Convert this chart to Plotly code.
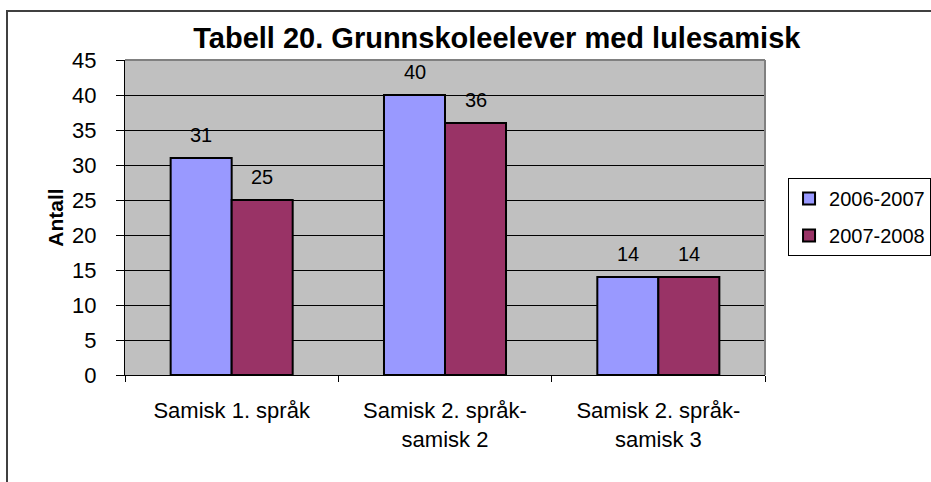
import plotly.graph_objects as go

categories = ["Samisk 1. språk", "Samisk 2. språk-<br>samisk 2", "Samisk 2. språk-<br>samisk 3"]
series_names = ["2006-2007", "2007-2008"]
values_2006 = [31, 40, 14]
values_2007 = [25, 36, 14]
colors = ["#9999FF", "#993366"]
title_text = "Tabell 20. Grunnskoleelever med lulesamisk"
y_title = "Antall"

FONT = "Arial, Liberation Sans, sans-serif"

fig = go.Figure()
all_vals = [values_2006, values_2007]
for i, (name, vals) in enumerate(zip(series_names, all_vals)):
    fig.add_trace(go.Bar(
        x=categories, y=vals, name=name,
        marker=dict(color=colors[i], line=dict(color="#000000", width=2)),
        legendgroup=name,
    ))

# data labels
for i, vals in enumerate(all_vals):
    shift = -30.5 if i == 0 else 30.5
    for c, v in zip(categories, vals):
        fig.add_annotation(x=c, y=v, text=str(v), showarrow=False,
                           xshift=shift, yshift=10, yanchor="bottom",
                           font=dict(family=FONT, size=20, color="#000000"))

fig.update_layout(
    width=931, height=482,
    margin=dict(l=125, r=166, t=60, b=107, autoexpand=False),
    paper_bgcolor="#FFFFFF", plot_bgcolor="#C0C0C0",
    barmode="group", bargap=0.428, bargroupgap=0,
    font=dict(family=FONT, size=22, color="#000000"),
    title=dict(text="<b>" + title_text + "</b>", x=0.581, xref="paper",
               xanchor="center", y=1 - 38 / 482, yanchor="middle",
               font=dict(family=FONT, size=29, color="#000000")),
    legend=dict(x=1.036, xanchor="left", y=0.6254, yanchor="top",
                bgcolor="#FFFFFF", bordercolor="#000000", borderwidth=1,
                font=dict(family=FONT, size=20, color="#000000"),
                traceorder="grouped", tracegroupgap=8, itemwidth=30),
    xaxis=dict(showline=True, linecolor="#000000", linewidth=1,
               ticks="outside", tickson="boundaries", ticklen=6,
               tickcolor="#000000", ticklabelstandoff=16,
               tickfont=dict(family=FONT, size=22, color="#000000"),
               showgrid=False, automargin=False),
    yaxis=dict(range=[0, 45], dtick=5, showline=True, linecolor="#000000",
               linewidth=1, ticks="outside", ticklen=8, tickcolor="#000000",
               ticklabelstandoff=15, automargin=False,
               tickfont=dict(family=FONT, size=22, color="#000000"),
               showgrid=True, gridcolor="#000000", gridwidth=1,
               zeroline=False,
               title=dict(text="<b>" + y_title + "</b>", standoff=2,
                          font=dict(family=FONT, size=21, color="#000000"))),
)

# plot area top/right border (gray)
fig.add_shape(type="line", xref="paper", yref="paper", x0=0, x1=1, y0=1, y1=1,
              line=dict(color="#808080", width=2), layer="above")
fig.add_shape(type="line", xref="paper", yref="paper", x0=1, x1=1, y0=0, y1=1,
              line=dict(color="#808080", width=2), layer="above")
# outer chart border (extends beyond the canvas on right and bottom)
fig.add_shape(type="rect", xref="paper", yref="paper",
              x0=(7 - 125) / 640, x1=(940 - 125) / 640,
              y0=(375 - 495) / 315, y1=(375 - 11) / 315,
              line=dict(color="#404040", width=2), layer="below")

fig.write_html("out.html", config={"displayModeBar": False},
               post_script="document.body.style.margin='0';document.body.style.overflow='hidden';")
